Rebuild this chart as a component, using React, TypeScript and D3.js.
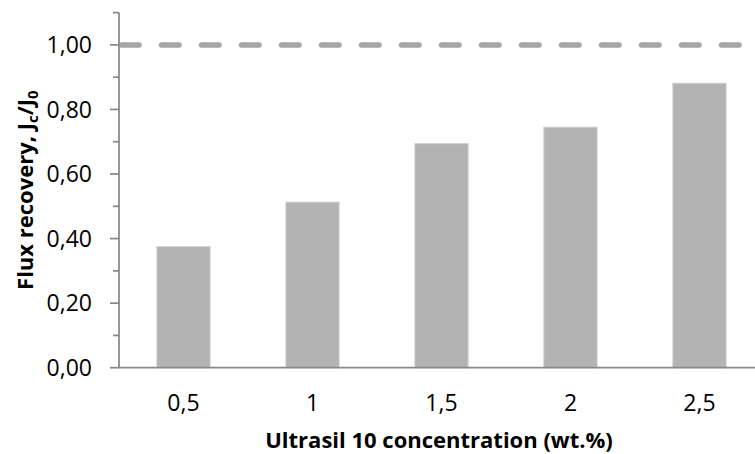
import React from "react";
import * as d3 from "d3";

const categories = ["0,5", "1", "1,5", "2", "2,5"];
const recovery = [0.375, 0.513, 0.694, 0.745, 0.881];
const yMajorTicks = [0, 0.2, 0.4, 0.6, 0.8, 1.0];
const yMinorTicks = [0.1, 0.3, 0.5, 0.7, 0.9, 1.1];
const referenceValue = 1.0;

const W = 755;
const H = 454;
const FONT = "'Open Sans', 'Liberation Sans', sans-serif";

export default function App() {
  const left = 119;
  const right = 764;
  const top = 12.6;
  const bottom = 367.7;

  const x = d3
    .scaleBand<string>()
    .domain(categories)
    .range([left, right])
    .paddingInner(0.587)
    .paddingOuter(0.2935);
  const y = d3.scaleLinear().domain([0, 1.1]).range([bottom, top]);
  const fmt = (v: number) => v.toFixed(2).replace(".", ",");
  const axisColor = "#898989";

  return (
    <svg
      width={W}
      height={H}
      style={{ position: "absolute", left: 0, top: 0, display: "block", background: "#fff" }}
      fontFamily={FONT}
    >
      {/* bars */}
      {recovery.map((v, i) => (
        <rect
          key={i}
          x={x(categories[i])!}
          y={y(v)}
          width={x.bandwidth()}
          height={bottom - y(v)}
          fill="#b3b3b3"
          stroke="#cfcfcf"
          strokeWidth={1}
        />
      ))}

      {/* reference dashed line */}
      <line
        x1={left + 2.5}
        x2={W + 10}
        y1={y(referenceValue)}
        y2={y(referenceValue)}
        stroke="#a6a6a6"
        strokeWidth={5.5}
        strokeLinecap="round"
        strokeDasharray="17.5 22.5"
      />

      {/* y axis */}
      <line x1={left} x2={left} y1={top} y2={bottom} stroke={axisColor} strokeWidth={1.75} />
      {yMajorTicks.map((t) => (
        <g key={"M" + t}>
          <line x1={left - 9} x2={left} y1={y(t)} y2={y(t)} stroke={axisColor} strokeWidth={1.75} />
          <text
            x={92}
            y={y(t)}
            dy="0.36em"
            textAnchor="end"
            fontSize={23}
            fill="#000"
          >
            {fmt(t)}
          </text>
        </g>
      ))}
      {yMinorTicks.map((t) => (
        <line key={"m" + t} x1={left - 6} x2={left} y1={y(t)} y2={y(t)} stroke={axisColor} strokeWidth={1.75} />
      ))}

      {/* x axis */}
      <line x1={left} x2={W} y1={bottom} y2={bottom} stroke={axisColor} strokeWidth={1.75} />
      {categories.map((c) => (
        <text
          key={c}
          x={x(c)! + x.bandwidth() / 2}
          y={410.5}
          textAnchor="middle"
          fontSize={23}
          fill="#000"
        >
          {c}
        </text>
      ))}

      {/* axis titles */}
      <text x={439} y={448} textAnchor="middle" fontSize={22} fontWeight="bold" fill="#000">
        Ultrasil 10 concentration (wt.%)
      </text>
      <text
        transform={`translate(33, ${(top + bottom) / 2}) rotate(-90)`}
        textAnchor="middle"
        fontSize={22}
        fontWeight="bold"
        fill="#000"
      >
        Flux recovery, J
        <tspan fontSize={15} dy={5}>c</tspan>
        <tspan dy={-5}>/J</tspan>
        <tspan fontSize={15} dy={5}>0</tspan>
      </text>
    </svg>
  );
}
